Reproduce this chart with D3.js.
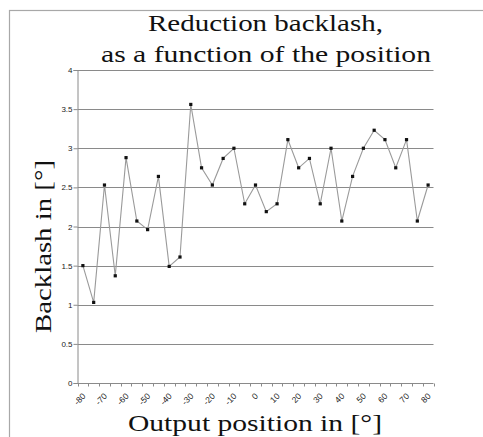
<!DOCTYPE html>
<html>
<head>
<meta charset="utf-8">
<script src="https://cdn.jsdelivr.net/npm/d3@7"></script>
<style>
  body { margin: 0; background: #fff; }
  svg { display: block; }
  .serif { font-family: "Liberation Serif", "Times New Roman", Times, serif; }
  .sans { font-family: "Liberation Sans", Arial, Helvetica, sans-serif; }
</style>
</head>
<body>
<svg id="chart" width="483" height="437"></svg>
<script>
// output position in degrees, one reading every 5 deg
const positions = [-80, -75, -70, -65, -60, -55, -50, -45, -40, -35, -30, -25, -20, -15, -10, -5, 0,
  5, 10, 15, 20, 25, 30, 35, 40, 45, 50, 55, 60, 65, 70, 75, 80];
const backlash = [1.50, 1.03, 2.53, 1.37, 2.88, 2.07, 1.96, 2.64, 1.49, 1.61, 3.56, 2.75, 2.53,
  2.87, 3.00, 2.29, 2.53, 2.19, 2.29, 3.11, 2.75, 2.87, 2.29, 3.00, 2.07, 2.64, 3.00, 3.23,
  3.11, 2.75, 3.11, 2.07, 2.53];
const yTicks = [0, 0.5, 1, 1.5, 2, 2.5, 3, 3.5, 4];
const xLabels = [-80, -70, -60, -50, -40, -30, -20, -10, 0, 10, 20, 30, 40, 50, 60, 70, 80];

const svg = d3.select("#chart");
const plotL = 77.5, plotR = 433.5, plotT = 70, plotB = 383;

const data = positions.map((p, i) => ({ pos: p, val: backlash[i] }));

const x = d3.scaleBand().domain(positions).range([plotL, plotR]);
const y = d3.scaleLinear().domain([0, 4]).range([plotB, plotT]);

// outer frame (only top and left edges visible)
svg.append("rect")
  .attr("x", 9.5).attr("y", 10.5)
  .attr("width", 600).attr("height", 600)
  .attr("fill", "none").attr("stroke", "#a8a8a8").attr("stroke-width", 1.2);

// horizontal gridlines
svg.append("g")
  .selectAll("line")
  .data(yTicks.filter(d => d > 0))
  .join("line")
  .attr("x1", plotL).attr("x2", plotR)
  .attr("y1", d => Math.round(y(d)) + 0.5).attr("y2", d => Math.round(y(d)) + 0.5)
  .attr("stroke", "#8a8a8a").attr("stroke-width", 1);

// y axis
const yAxis = svg.append("g")
  .attr("transform", `translate(${plotL},0)`)
  .call(d3.axisLeft(y).tickValues(yTicks).tickSize(4).tickFormat(d3.format("")));
yAxis.attr("font-family", null);
yAxis.selectAll("path, line").attr("stroke", "#8a8a8a");
yAxis.selectAll("text")
  .attr("class", "sans")
  .attr("font-size", 8).attr("fill", "#222").attr("x", -5);

// x axis: ticks between categories, labels every 10 deg
const xg = svg.append("g").attr("transform", `translate(0,${plotB + 0.5})`);
xg.append("line").attr("x1", plotL).attr("x2", plotR).attr("stroke", "#8a8a8a");
const bounds = positions.map(p => x(p)).concat([plotR]);
xg.selectAll("line.tick")
  .data(bounds)
  .join("line")
  .attr("class", "tick")
  .attr("x1", d => Math.round(d) + 0.5).attr("x2", d => Math.round(d) + 0.5)
  .attr("y1", 0).attr("y2", 3)
  .attr("stroke", "#8a8a8a");
xg.selectAll("text")
  .data(xLabels)
  .join("text")
  .attr("class", "sans")
  .attr("transform", d => `translate(${x(d) + x.bandwidth() / 2 - 1},${9}) rotate(-45)`)
  .attr("text-anchor", "end")
  .attr("dy", "0.7em")
  .attr("font-size", 8.5).attr("fill", "#222")
  .text(d => d);

// data line
const line = d3.line()
  .x(d => x(d.pos) + x.bandwidth() / 2)
  .y(d => y(d.val));
svg.append("path")
  .datum(data)
  .attr("d", line)
  .attr("fill", "none")
  .attr("stroke", "#9a9a9a")
  .attr("stroke-width", 1.1);

// markers
svg.append("g")
  .selectAll("rect")
  .data(data)
  .join("rect")
  .attr("x", d => x(d.pos) + x.bandwidth() / 2 - 1.6)
  .attr("y", d => y(d.val) - 1.6)
  .attr("width", 3.2).attr("height", 3.2)
  .attr("fill", "#111");

// titles (serif, stretched wide as in the original)
svg.append("text")
  .attr("class", "serif")
  .attr("x", 148).attr("y", 31)
  .attr("font-size", 24).attr("fill", "#111")
  .attr("textLength", 235).attr("lengthAdjust", "spacingAndGlyphs")
  .text("Reduction backlash,");
svg.append("text")
  .attr("class", "serif")
  .attr("x", 101).attr("y", 62)
  .attr("font-size", 24).attr("fill", "#111")
  .attr("textLength", 330).attr("lengthAdjust", "spacingAndGlyphs")
  .text("as a function of the position");
svg.append("text")
  .attr("class", "serif")
  .attr("x", 128).attr("y", 431)
  .attr("font-size", 24).attr("fill", "#111")
  .attr("textLength", 254).attr("lengthAdjust", "spacingAndGlyphs")
  .text("Output position in [°]");
svg.append("text")
  .attr("class", "serif")
  .attr("transform", "translate(51,333) rotate(-90)")
  .attr("font-size", 24).attr("fill", "#111")
  .attr("textLength", 173).attr("lengthAdjust", "spacingAndGlyphs")
  .text("Backlash in [°]");
</script>
</body>
</html>
